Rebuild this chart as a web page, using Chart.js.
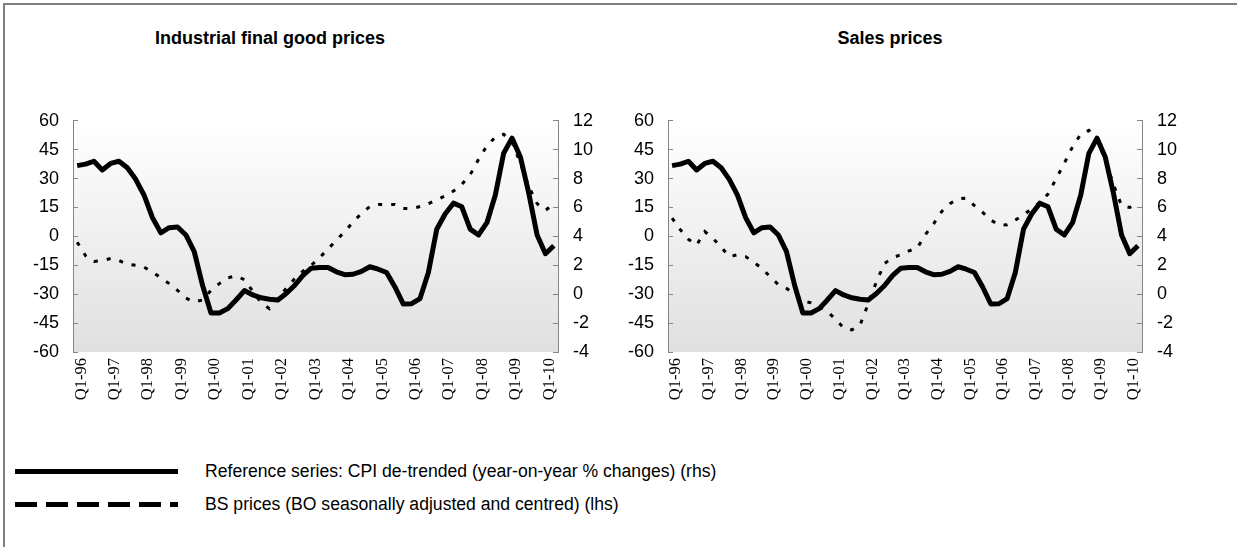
<!DOCTYPE html>
<html>
<head>
<meta charset="utf-8">
<script src="https://cdn.jsdelivr.net/npm/chart.js@4.4.1/dist/chart.umd.min.js"></script>
<style>
  html, body { margin: 0; padding: 0; background: #fff; }
  body { width: 1237px; height: 547px; position: relative; overflow: hidden; font-family: "Liberation Sans", Arial, sans-serif; color: #000; }
  #frame { position: absolute; left: 3px; top: 3px; width: 1300px; height: 600px; border-top: 2px solid #808080; border-left: 2px solid #808080; }
  .title { position: absolute; top: 28px; width: 400px; font-weight: bold; font-size: 18px; line-height: 20px; text-align: center; }
  .box { position: absolute; top: 90px; height: 350px; }
  .legend-row { position: absolute; left: 15px; height: 20px; display: flex; align-items: center; font-size: 17.6px; white-space: nowrap; }
  .swatch { width: 163px; height: 5px; margin-right: 27px; }
  .solid { background: #000; }
  .dashed { background: repeating-linear-gradient(to right, #000 0 22px, transparent 22px 31px); }
</style>
</head>
<body>
<div id="frame"></div>
<div class="title" style="left:70px">Industrial final good prices</div>
<div class="title" style="left:690px">Sales prices</div>
<div class="box" style="left:0; width:620px"><canvas id="industrial" width="620" height="350"></canvas></div>
<div class="box" style="left:620px; width:617px"><canvas id="sales" width="617" height="350"></canvas></div>
<div class="legend-row" style="top:461px"><div class="swatch solid"></div>Reference series: CPI de-trended (year-on-year % changes) (rhs)</div>
<div class="legend-row" style="top:494px"><div class="swatch dashed"></div>BS prices (BO seasonally adjusted and centred) (lhs)</div>

<script>
// quarterly categories, Q1-96 .. Q2-10
const quarters = [
  'Q1-96','Q2-96','Q3-96','Q4-96','Q1-97','Q2-97','Q3-97','Q4-97',
  'Q1-98','Q2-98','Q3-98','Q4-98','Q1-99','Q2-99','Q3-99','Q4-99',
  'Q1-00','Q2-00','Q3-00','Q4-00','Q1-01','Q2-01','Q3-01','Q4-01',
  'Q1-02','Q2-02','Q3-02','Q4-02','Q1-03','Q2-03','Q3-03','Q4-03',
  'Q1-04','Q2-04','Q3-04','Q4-04','Q1-05','Q2-05','Q3-05','Q4-05',
  'Q1-06','Q2-06','Q3-06','Q4-06','Q1-07','Q2-07','Q3-07','Q4-07',
  'Q1-08','Q2-08','Q3-08','Q4-08','Q1-09','Q2-09','Q3-09','Q4-09',
  'Q1-10','Q2-10'
];

// reference series, CPI de-trended (rhs) - same in both panels
const cpiDetrended = [
  8.9, 9.0, 9.2, 8.6, 9.05, 9.2, 8.75, 7.95,
  6.85, 5.3, 4.25, 4.6, 4.65, 4.1, 2.95, 0.6,
  -1.3, -1.3, -1.0, -0.4, 0.25, -0.05, -0.25, -0.35,
  -0.4, 0.05, 0.6, 1.3, 1.8, 1.85, 1.85, 1.55,
  1.35, 1.38, 1.58, 1.9, 1.73, 1.5, 0.5, -0.68,
  -0.66, -0.3, 1.5, 4.5, 5.55, 6.3, 6.05, 4.5,
  4.1, 4.95, 6.85, 9.75, 10.8, 9.5, 7.0, 4.1,
  2.8, 3.35
];

// BS prices (lhs)
const bsIndustrial = [
  -3, -10, -13, -12.5, -11.5, -12.5, -14.5, -15,
  -16, -18.5, -21.5, -24.5, -28, -32, -34, -33,
  -28, -24.5, -21.5, -20.5, -22.5, -28.5, -34.5, -37.5,
  -32, -27, -22, -18, -15, -11, -6.5, -2,
  2.5, 7.5, 12, 15.5, 16.5, 16.5, 16.5, 14.5,
  14.5, 15.5, 17, 19, 21, 23.5, 27, 32,
  40, 47, 51.5, 53, 49, 38, 26, 17,
  13.5, 17
];

const bsSales = [
  9.5, 3.5, -1.5, -4.5, 2.5, -1, -5.5, -10.5,
  -9.5, -10.5, -13.5, -16.5, -21, -25, -27, -30,
  -33.5, -34.5, -36.5, -39, -43, -47.5, -48.5, -46,
  -35, -23.5, -14, -11, -9.5, -7.5, -6, 1,
  6.5, 13, 17, 19.5, 19.8, 16, 12.5, 8.5,
  5.9, 6, 8.5, 11, 14.5, 17.5, 22, 30,
  38, 46.5, 53, 55, 50, 40, 27, 16,
  15, 17.5
];

const plotBackground = {
  id: 'plotBackground',
  beforeDraw(chart) {
    const { ctx, chartArea: a } = chart;
    const g = ctx.createLinearGradient(0, a.top, 0, a.bottom);
    g.addColorStop(0, '#ffffff');
    g.addColorStop(1, '#e0e0e0');
    ctx.save();
    ctx.fillStyle = g;
    ctx.fillRect(a.left, a.top, a.right - a.left, a.bottom - a.top);
    ctx.restore();
  }
};

const tickFont = { family: '"Liberation Sans", Arial, sans-serif', size: 18 };
const axisGray = '#868686';

function makeChart(id, bsData, dims) {
  return new Chart(document.getElementById(id), {
    type: 'line',
    data: {
      labels: quarters,
      datasets: [{
        label: 'Reference series: CPI de-trended (year-on-year % changes) (rhs)',
        data: cpiDetrended,
        yAxisID: 'yR',
        borderColor: '#000',
        borderWidth: 5,
        borderJoinStyle: 'round',
        pointRadius: 0,
        tension: 0
      }, {
        label: 'BS prices (BO seasonally adjusted and centred) (lhs)',
        data: bsData,
        yAxisID: 'yL',
        borderColor: '#000',
        borderWidth: 3,
        borderDash: [4, 9],
        pointRadius: 0,
        tension: 0
      }]
    },
    options: {
      responsive: false,
      animation: false,
      layout: { padding: { top: dims.top, left: 0, right: 0, bottom: 0 } },
      plugins: { legend: { display: false }, tooltip: { enabled: false } },
      scales: {
        x: {
          type: 'category',
          offset: true,
          grid: { display: false, drawTicks: false },
          border: { display: false },
          ticks: {
            autoSkip: false, maxRotation: 90, minRotation: 90, padding: 6, labelOffset: 4, color: '#000',
            font: { family: '"Liberation Serif", "Times New Roman", serif', size: 16.5 },
            callback: (v, i) => (i % 4 === 0 ? quarters[i] : null)
          },
          afterFit: s => { s.height = 88; }
        },
        yL: {
          position: 'left', min: -60, max: 60,
          ticks: { stepSize: 15, padding: 19, color: '#000', font: tickFont },
          grid: { drawOnChartArea: false, tickLength: -5, color: axisGray },
          border: { color: axisGray },
          afterFit: s => { s.width = dims.left; }
        },
        yR: {
          position: 'right', min: -4, max: 12,
          ticks: { stepSize: 2, padding: 20, color: '#000', font: tickFont },
          grid: { drawOnChartArea: false, tickLength: -5, color: axisGray },
          border: { color: axisGray },
          afterFit: s => { s.width = dims.right; }
        }
      }
    },
    plugins: [plotBackground]
  });
}

makeChart('industrial', bsIndustrial, { top: 23, left: 73, right: 62 });
makeChart('sales', bsSales, { top: 27, left: 48, right: 95 });
</script>
</body>
</html>
